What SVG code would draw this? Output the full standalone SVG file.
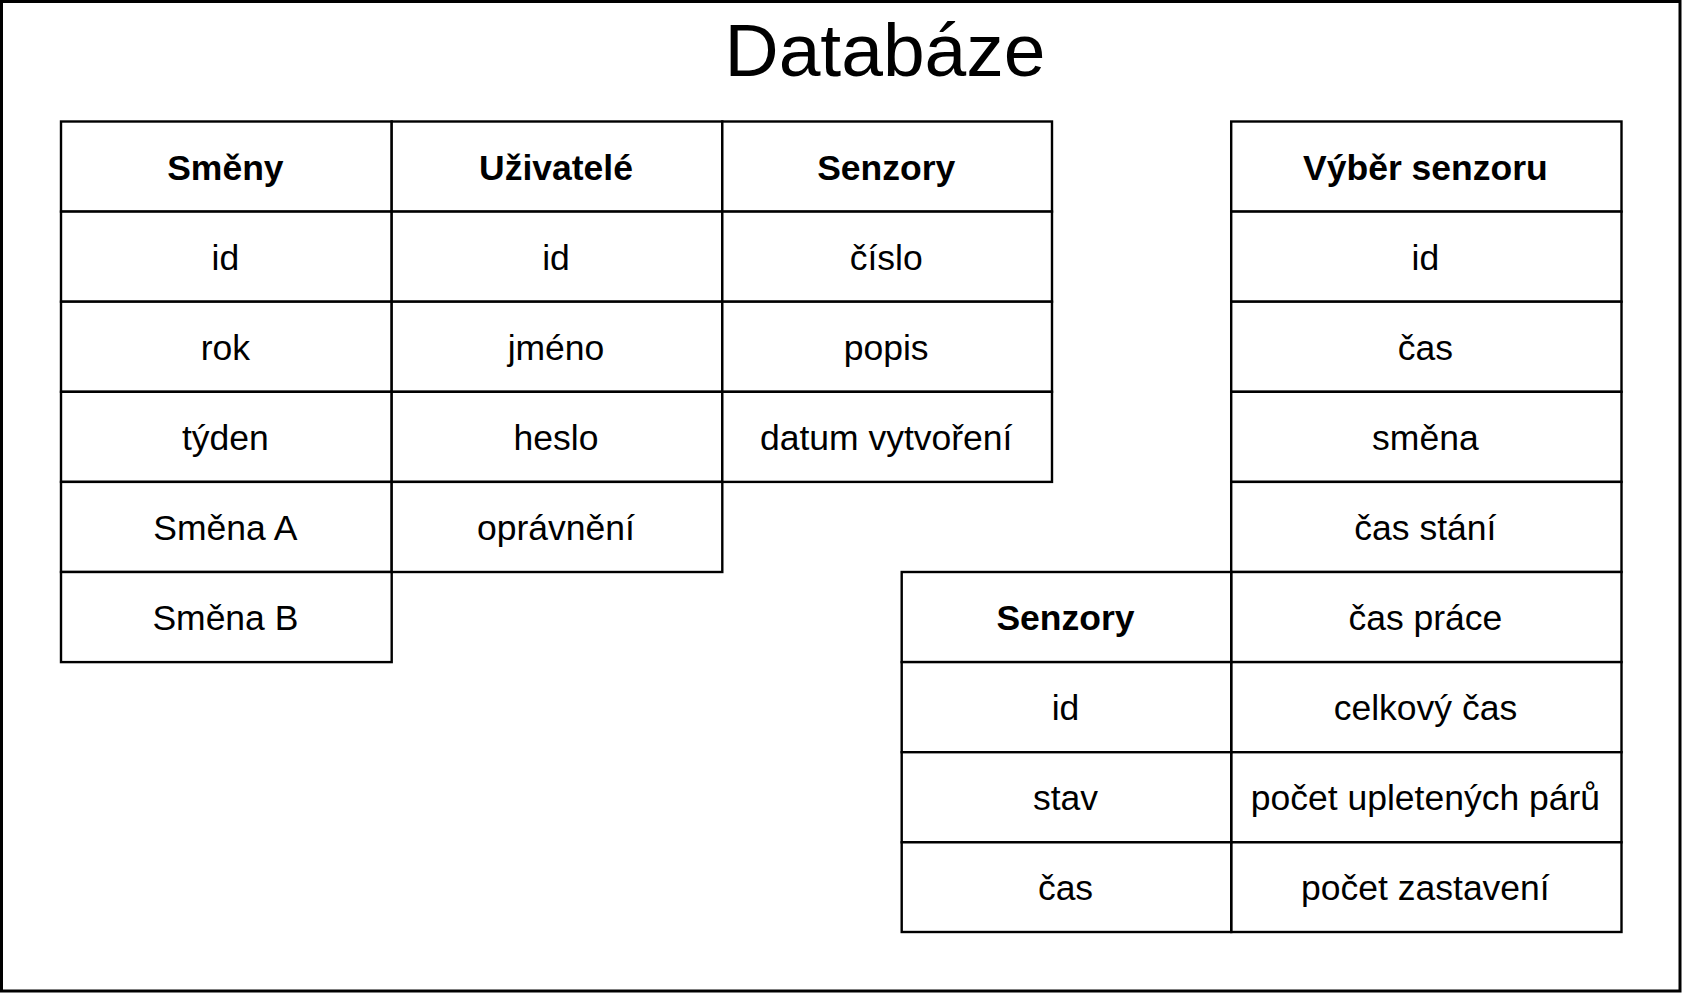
<svg xmlns="http://www.w3.org/2000/svg" width="1683" height="993" viewBox="0 0 1683 993">
<style>
.c{fill:#fff;stroke:#000;stroke-width:2.4}
.t{font-family:"Liberation Sans",Arial,sans-serif;font-size:35.5px;text-anchor:middle;fill:#000}
.h{font-weight:bold}
</style>
<rect x="1.5" y="1.5" width="1678.5" height="989.5" fill="#fff" stroke="#000" stroke-width="3"/>
<text x="885" y="76" class="t" style="font-size:75px">Databáze</text>
<g id="smeny">
<rect class="c" x="61" y="121.5" width="330.7" height="90.1"/>
<rect class="c" x="61" y="211.6" width="330.7" height="90.1"/>
<rect class="c" x="61" y="301.7" width="330.7" height="90.1"/>
<rect class="c" x="61" y="391.8" width="330.7" height="90.1"/>
<rect class="c" x="61" y="481.9" width="330.7" height="90.1"/>
<rect class="c" x="61" y="572" width="330.7" height="90.1"/>
<text class="t h" x="225.4" y="179.6">Směny</text>
<text class="t" x="225.4" y="269.7">id</text>
<text class="t" x="225.4" y="359.8">rok</text>
<text class="t" x="225.4" y="449.9">týden</text>
<text class="t" x="225.4" y="540">Směna A</text>
<text class="t" x="225.4" y="630.1">Směna B</text>
</g>
<g id="uzivatele">
<rect class="c" x="391.7" y="121.5" width="330.6" height="90.1"/>
<rect class="c" x="391.7" y="211.6" width="330.6" height="90.1"/>
<rect class="c" x="391.7" y="301.7" width="330.6" height="90.1"/>
<rect class="c" x="391.7" y="391.8" width="330.6" height="90.1"/>
<rect class="c" x="391.7" y="481.9" width="330.6" height="90.1"/>
<text class="t h" x="556" y="179.6">Uživatelé</text>
<text class="t" x="556" y="269.7">id</text>
<text class="t" x="556" y="359.8">jméno</text>
<text class="t" x="556" y="449.9">heslo</text>
<text class="t" x="556" y="540">oprávnění</text>
</g>
<g id="senzory1">
<rect class="c" x="722.3" y="121.5" width="329.7" height="90.1"/>
<rect class="c" x="722.3" y="211.6" width="329.7" height="90.1"/>
<rect class="c" x="722.3" y="301.7" width="329.7" height="90.1"/>
<rect class="c" x="722.3" y="391.8" width="329.7" height="90.1"/>
<text class="t h" x="886.2" y="179.6">Senzory</text>
<text class="t" x="886.2" y="269.7">číslo</text>
<text class="t" x="886.2" y="359.8">popis</text>
<text class="t" x="886.2" y="449.9">datum vytvoření</text>
</g>
<g id="vyber">
<rect class="c" x="1231.2" y="121.5" width="390.3" height="90.1"/>
<rect class="c" x="1231.2" y="211.6" width="390.3" height="90.1"/>
<rect class="c" x="1231.2" y="301.7" width="390.3" height="90.1"/>
<rect class="c" x="1231.2" y="391.8" width="390.3" height="90.1"/>
<rect class="c" x="1231.2" y="481.9" width="390.3" height="90.1"/>
<rect class="c" x="1231.2" y="572" width="390.3" height="90.1"/>
<rect class="c" x="1231.2" y="662.1" width="390.3" height="90.1"/>
<rect class="c" x="1231.2" y="752.2" width="390.3" height="90.1"/>
<rect class="c" x="1231.2" y="842.3" width="390.3" height="89.7"/>
<text class="t h" x="1425.4" y="179.6">Výběr senzoru</text>
<text class="t" x="1425.4" y="269.7">id</text>
<text class="t" x="1425.4" y="359.8">čas</text>
<text class="t" x="1425.4" y="449.9">směna</text>
<text class="t" x="1425.4" y="540">čas stání</text>
<text class="t" x="1425.4" y="630.1">čas práce</text>
<text class="t" x="1425.4" y="720.2">celkový čas</text>
<text class="t" x="1425.4" y="810.3">počet upletených párů</text>
<text class="t" x="1425.4" y="900.4">počet zastavení</text>
</g>
<g id="senzory2">
<rect class="c" x="901.7" y="572" width="329.5" height="90.1"/>
<rect class="c" x="901.7" y="662.1" width="329.5" height="90.1"/>
<rect class="c" x="901.7" y="752.2" width="329.5" height="90.1"/>
<rect class="c" x="901.7" y="842.3" width="329.5" height="89.7"/>
<text class="t h" x="1065.5" y="630.1">Senzory</text>
<text class="t" x="1065.5" y="720.2">id</text>
<text class="t" x="1065.5" y="810.3">stav</text>
<text class="t" x="1065.5" y="900.4">čas</text>
</g>
<g id="connectors"/>
</svg>
